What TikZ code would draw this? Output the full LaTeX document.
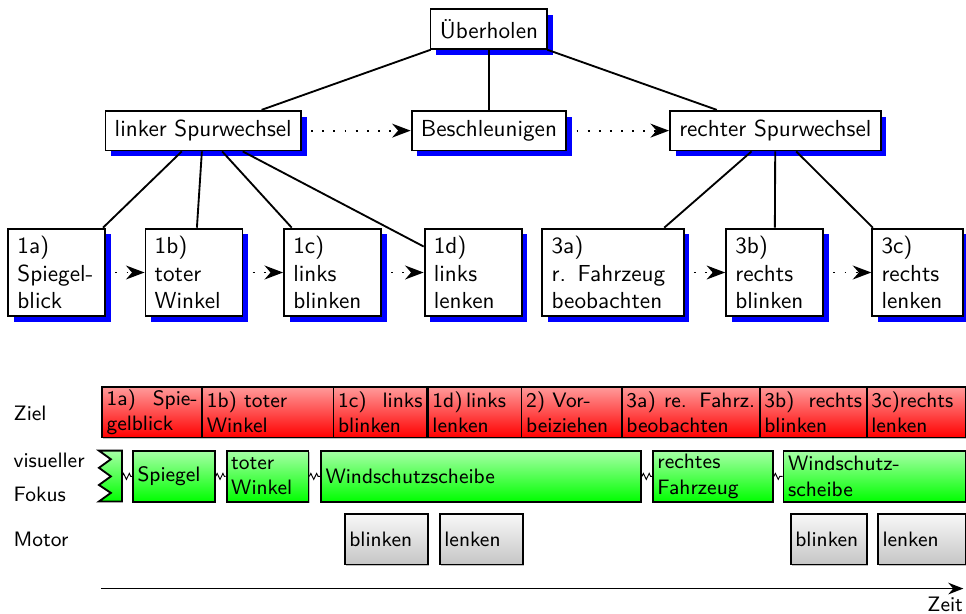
\documentclass[tikz,border=0pt]{standalone}
\usepackage{tikz}
\usetikzlibrary{arrows.meta,shadows,decorations.pathmorphing}
\renewcommand{\familydefault}{\sfdefault}
\definecolor{OvBlue}{HTML}{0000FF}
\definecolor{OvRed}{HTML}{FF0000}
\definecolor{OvGreen}{HTML}{00FF00}

\begin{document}
\begin{tikzpicture}[
    >={Stealth[length=8pt,width=6pt]},
    box/.style={draw,thick,fill=white,inner sep=4pt,minimum height=0.6cm,
      drop shadow={shadow xshift=2.5pt,shadow yshift=-2.5pt,fill=OvBlue,opacity=1}},
    task/.style={box,text width=1.19cm,align=left,minimum height=1.33cm,inner ysep=2pt},
    seq/.style={->,thick,loosely dotted,shorten <=4pt},
    tree/.style={thick},
    bar/.style={draw,thick,anchor=west,minimum height=0.77cm,inner xsep=2pt,inner ysep=0pt,
      font=\small,drop shadow={shadow xshift=0.6pt,shadow yshift=-0.6pt,fill=gray!50,opacity=1}},
    goal/.style={bar,top color=OvRed!40,bottom color=OvRed,align=justify,minimum height=0.76cm},
    look/.style={bar,top color=OvGreen!35,bottom color=OvGreen,align=left},
    act/.style={bar,top color=gray!5,bottom color=gray!45,align=left},
    zz/.style={decorate,decoration={zigzag,segment length=2.5pt,amplitude=1.3pt}},
    lane/.style={font=\small,anchor=base west,inner sep=0pt}
  ]
  \path[use as bounding box] (0,0) rectangle (14.64,9.30);

  % Hierarchie
  \node[box] (ueber) at (7.41,8.86) {Überholen};
  \node[box] (lsw) at (3.08,7.32) {linker Spurwechsel};
  \node[box] (beschl) at (7.41,7.32) {Beschleunigen};
  \node[box] (rsw) at (11.75,7.32) {rechter Spurwechsel};

  \node[task] (s1a) at (0.86,5.17) {1a)\\Spiegel-\\blick};
  \node[task] (s1b) at (2.94,5.17) {1b)\\toter\\Winkel};
  \node[task] (s1c) at (5.04,5.17) {1c)\\links\\blinken};
  \node[task] (s1d) at (7.17,5.17) {1d)\\links\\lenken};
  \node[task,text width=1.86cm] (s3a) at (9.29,5.17) {3a)\\r. Fahrzeug\\beobachten};
  \node[task] (s3b) at (11.74,5.17) {3b)\\rechts\\blinken};
  \node[task,text width=1.10cm] (s3c) at (13.91,5.17) {3c)\\rechts\\lenken};

  \draw[tree] (ueber) -- (lsw);
  \draw[tree] (ueber) -- (beschl);
  \draw[tree] (ueber) -- (rsw);
  \draw[tree] (lsw) -- (s1a);
  \draw[tree] (lsw) -- (s1b);
  \draw[tree] (lsw) -- (s1c);
  \draw[tree] (lsw) -- (s1d);
  \draw[tree] (rsw) -- (s3a);
  \draw[tree] (rsw) -- (s3b);
  \draw[tree] (rsw) -- (s3c);

  \draw[seq] (lsw) -- (beschl);
  \draw[seq] (beschl) -- (rsw);
  \draw[seq] (s1a) -- (s1b);
  \draw[seq] (s1b) -- (s1c);
  \draw[seq] (s1c) -- (s1d);
  \draw[seq] (s3a) -- (s3b);
  \draw[seq] (s3b) -- (s3c);

  % Zeitleiste
  \node[lane] (lziel) at (0.20,2.92) {Ziel};
  \node[lane] (lvis) at (0.20,2.21) {visueller};
  \node[lane] (lfok) at (0.20,1.70) {Fokus};
  \node[lane] (lmot) at (0.20,1.02) {Motor};

  \node[goal,text width=1.38cm] (z1a) at (1.53,3.05) {1a) Spie-\linebreak gelblick};
  \node[goal,text width=1.86cm] (z1b) at (3.05,3.05) {1b) toter\\Winkel};
  \node[goal,text width=1.28cm] (z1c) at (5.04,3.05) {1c) links\linebreak blinken};
  \node[goal,text width=1.28cm] (z1d) at (6.47,3.05) {1d)\,links\\lenken};
  \node[goal,text width=1.38cm] (z2) at (7.89,3.05) {2) Vor-\\beiziehen};
  \node[goal,text width=1.95cm] (z3a) at (9.41,3.05) {3a) re. Fahrz.\linebreak beobachten};
  \node[goal,text width=1.48cm] (z3b) at (11.50,3.05) {3b) rechts\linebreak blinken};
  \node[goal,text width=1.36cm] (z3c) at (13.12,3.05) {3c)rechts\\lenken};

  \draw[thick,top color=OvGreen!35,bottom color=OvGreen] (1.85,2.47) -- (1.50,2.47)
    -- (1.68,2.34) -- (1.50,2.21) -- (1.68,2.08) -- (1.50,1.95) -- (1.68,1.83)
    -- (1.50,1.70) -- (1.85,1.70) -- cycle;
  \coordinate (f0) at (1.85,2.08);
  \node[look,text width=1.10cm] (fsp) at (2.00,2.08) {Spiegel};
  \node[look,text width=1.10cm] (fwi) at (3.42,2.08) {toter\\Winkel};
  \node[look,text width=4.71cm] (fws) at (4.85,2.08) {Windschutzscheibe};
  \node[look,text width=1.68cm] (ffz) at (9.88,2.08) {rechtes\\Fahrzeug};
  \node[look,text width=2.62cm] (fws2) at (11.86,2.08) {Windschutz-\\scheibe};
  \draw[zz] (f0) -- (fsp);
  \draw[zz] (fsp) -- (fwi);
  \draw[zz] (fwi) -- (fws);
  \draw[zz] (fws) -- (ffz);
  \draw[zz] (ffz) -- (fws2);

  \node[act,text width=1.12cm] (m1) at (5.21,1.13) {blinken};
  \node[act,text width=1.12cm] (m2) at (6.65,1.13) {lenken};
  \node[act,text width=1.01cm] (m3) at (11.97,1.13) {blinken};
  \node[act,text width=1.19cm] (m4) at (13.29,1.13) {lenken};

  \coordinate (t0) at (1.53,0.38);
  \coordinate (t1) at (14.60,0.38);
  \draw[thick,-{Stealth[length=6.5pt,width=5pt]}] (t0) -- (t1);
  \node[anchor=north east,inner xsep=0pt,font=\small] (lzeit) at (t1) {Zeit};
\end{tikzpicture}
\end{document}
